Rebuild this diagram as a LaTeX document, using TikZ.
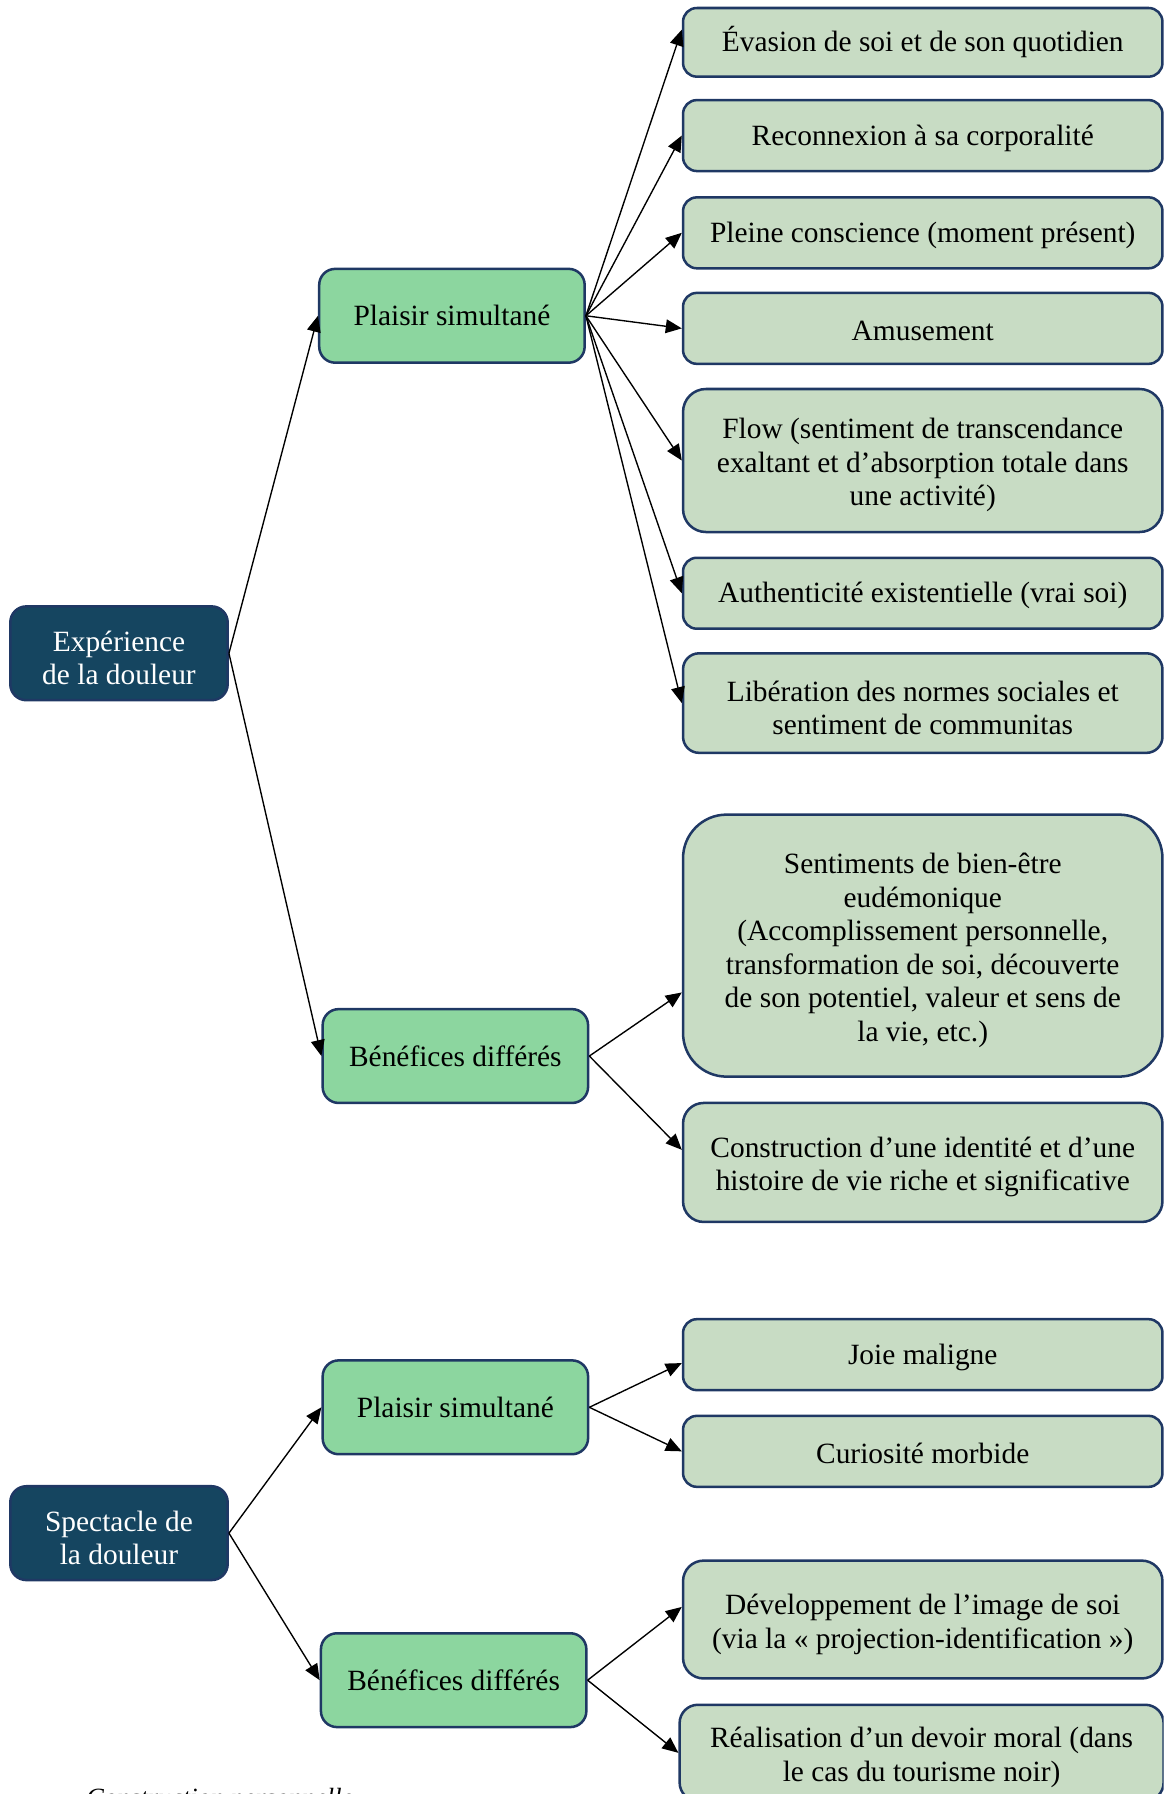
\documentclass[tikz,border=0pt]{standalone}
\usepackage{fontspec}
\setmainfont{Liberation Serif}
\usetikzlibrary{arrows.meta}
\definecolor{rootblue}{HTML}{154560}
\definecolor{midgreen}{HTML}{8CD69F}
\definecolor{leafgreen}{HTML}{C8DCC4}
\definecolor{edgenavy}{HTML}{1F3864}
\newcommand\toppad{\rule{0pt}{13pt}}
\begin{document}
\begin{tikzpicture}[x=0.5pt,y=0.5pt,line join=round,>={Triangle[length=7pt,width=6pt]},line width=0.6pt]
	\tikzset{box/.style={draw=edgenavy,line width=1.1pt,rounded corners=6pt,inner sep=0pt,align=center,font=\fontsize{12.85}{14.65}\selectfont},
		root box/.style={box,fill=rootblue,text=white,minimum width=95pt,minimum height=41pt,rounded corners=7pt},
		mid box/.style={box,fill=midgreen,minimum width=116pt,minimum height=41pt,rounded corners=7pt},
		leaf box/.style={box,fill=leafgreen,minimum width=209.5pt,minimum height=#1,execute at begin node={\rule{0pt}{11pt}}},
		leaf box/.default=31pt}
	\useasboundingbox (0,0) rectangle (1017,-1568);
	\clip (0,0) rectangle (1017,-1568);
	% left column
	\node[root box] (ex) at (104,-571) {\toppad Expérience\\de la douleur};
	\node[root box] (sp) at (104,-1340) {\toppad Spectacle de\\la douleur};
	% middle column
	\node[mid box] (ps1) at (395,-276) {Plaisir simultané};
	\node[mid box] (bd1) at (398,-923) {Bénéfices différés};
	\node[mid box] (ps2) at (398,-1230) {Plaisir simultané};
	\node[mid box] (bd2) at (396.5,-1468.5) {Bénéfices différés};
	% right column
	\node[leaf box=30pt] (ev) at (806.5,-37) {Évasion de soi et de son quotidien};
	\node[leaf box] (re) at (806.5,-118.5) {Reconnexion à sa corporalité};
	\node[leaf box] (pc) at (806.5,-203.5) {Pleine conscience (moment présent)};
	\node[leaf box] (am) at (806.5,-287) {Amusement};
	\node[leaf box=62.5pt,rounded corners=10pt] (fl) at (806.5,-402.5) {\toppad Flow (sentiment de transcendance\\exaltant et d’absorption totale dans\\une activité)};
	\node[leaf box] (au) at (806.5,-518.5) {Authenticité existentielle (vrai soi)};
	\node[leaf box=43.5pt,rounded corners=7pt] (li) at (806.5,-614.5) {\toppad Libération des normes sociales et\\sentiment de communitas};
	\node[leaf box=114.5pt,rounded corners=19pt] (sb) at (806.5,-826.5) {\toppad Sentiments de bien-être\\eudémonique\\(Accomplissement personnelle,\\transformation de soi, découverte\\de son potentiel, valeur et sens de\\la vie, etc.)};
	\node[leaf box=52pt,rounded corners=9pt] (co) at (806.5,-1016) {\toppad Construction d’une identité et d’une\\histoire de vie riche et significative};
	\node[leaf box] (jo) at (806.5,-1184) {Joie maligne};
	\node[leaf box] (cu) at (806.5,-1268.5) {Curiosité morbide};
	\node[leaf box=51.5pt,rounded corners=9pt] (dv) at (806.5,-1415.5) {\toppad Développement de l’image de soi\\(via la « projection-identification »)};
	\node[leaf box=42pt,rounded corners=8pt,minimum width=211.5pt] (rv) at (805.5,-1532) {\toppad Réalisation d’un devoir moral (dans\\le cas du tourisme noir)};
	\node[anchor=base west,inner sep=0pt,font=\fontsize{11.5}{14}\selectfont\itshape] (cap) at (75,-1579) {Construction personnelle};
	% connectors
	\draw[->] (ex.east) -- (ps1.west);
	\draw[->] (ex.east) -- (bd1.west);
	\draw[->] (sp.east) -- (ps2.west);
	\draw[->] (sp.east) -- (bd2.west);
	\foreach \tgt in {ev.177,re.west,pc.west,am.west,fl.west,au.west,li.west}
		\draw[->] (ps1.east) -- (\tgt);
	\draw[->] (bd1.east) -- (sb.191);
	\draw[->] (bd1.east) -- (co.177);
	\draw[->] (ps2.east) -- (jo.182);
	\draw[->] (ps2.east) -- (cu.west);
	\draw[->] (bd2.east) -- (dv.177);
	\draw[->] (bd2.east) -- (rv.west);
\end{tikzpicture}
\end{document}
